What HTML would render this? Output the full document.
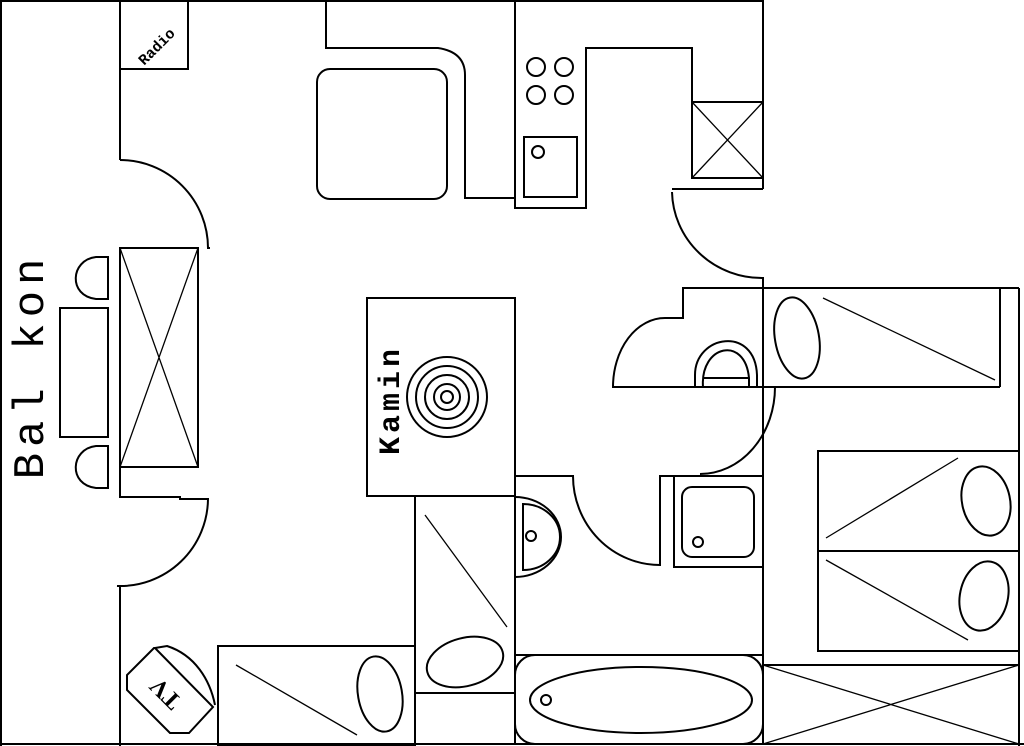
<!DOCTYPE html>
<html><head><meta charset="utf-8"><style>html,body{margin:0;padding:0;background:#fff}svg{display:block}</style></head><body>
<svg width="1024" height="746" viewBox="0 0 1024 746" xmlns="http://www.w3.org/2000/svg">
<g fill="none" stroke="#000" stroke-width="2">
<line x1="1" y1="0" x2="1" y2="746"/>
<line x1="0" y1="1" x2="764" y2="1"/>
<line x1="0" y1="744" x2="1024" y2="744"/>
<rect x="120" y="1" width="68" height="68"/>
<line x1="120" y1="69" x2="120" y2="160"/>
<path d="M120 160 A88 88 0 0 1 208 248 L210 248"/>
<rect x="120" y="248" width="78" height="219"/>
<path d="M120 248 L198 467 M198 248 L120 467" stroke-width="1.3"/>
<path d="M120 467 L120 497 L180 497 L180 499 L208 499 A88 88 0 0 1 117 586 L120 586 L120 746"/>
<rect x="60" y="308" width="48" height="129"/>
<path d="M108 257 L96 257 C70 260 68 296 96 299 L108 299 Z"/>
<path d="M108 446 L96 446 C70 449 68 485 96 488 L108 488 Z"/>
<path d="M326 1 L326 48 L438 48 Q465 52 465 75 L465 198 L515 198"/>
<rect x="317" y="69" width="130" height="130" rx="13"/>
<path d="M515 1 L515 208 L586 208 L586 48 L692 48 L692 102"/>
<rect x="692" y="102" width="71" height="76"/>
<path d="M692 102 L763 178 M763 102 L692 178" stroke-width="1.3"/>
<line x1="763" y1="1" x2="763" y2="189"/>
<line x1="672" y1="189" x2="763" y2="189"/>
<circle cx="536" cy="67" r="9"/><circle cx="564" cy="67" r="9"/>
<circle cx="536" cy="95" r="9"/><circle cx="564" cy="95" r="9"/>
<rect x="524" y="137" width="53" height="60"/>
<circle cx="538" cy="152" r="6"/>
<path d="M672 192 A90 88 0 0 0 763 278 L763 744"/>
<rect x="367" y="298" width="148" height="198"/>
<circle cx="447" cy="397" r="40"/><circle cx="447" cy="397" r="31"/><circle cx="447" cy="397" r="22"/><circle cx="447" cy="397" r="13"/><circle cx="447" cy="397" r="6"/>
<path d="M1019 288 L683 288 L683 318 L665 318 A52 69 0 0 0 613 387 L1000 387"/>
<path d="M695 387 L695 375 C695 335 755 325 757 375 L757 387"/>
<path d="M703 387 C700 345 745 335 749 378 L749 387 M703 378 L749 378"/>
<line x1="1000" y1="288" x2="1000" y2="387"/>
<line x1="1019" y1="288" x2="1019" y2="746"/>
<ellipse cx="797" cy="338" rx="22" ry="41" transform="rotate(-10 797 338)"/>
<line x1="823" y1="298" x2="995" y2="380" stroke-width="1.3"/>
<path d="M775 387 A75 87 0 0 1 700 474"/>
<path d="M515 496 L515 744"/>
<path d="M515 476 L573 476 A87 89 0 0 0 660 565 L660 476 L763 476"/>
<rect x="674" y="476" width="89" height="91"/>
<rect x="682" y="487" width="72" height="70" rx="10"/>
<circle cx="698" cy="542" r="5"/>
<path d="M515 497 A46 40 0 0 1 515 577"/>
<path d="M523 504 A37 33 0 0 1 523 570 Z"/>
<circle cx="531" cy="536" r="5"/>
<line x1="515" y1="655" x2="763" y2="655"/>
<rect x="515" y="655" width="248" height="89" rx="20"/>
<ellipse cx="641" cy="700" rx="111" ry="33"/>
<circle cx="546" cy="700" r="5"/>
<rect x="818" y="451" width="201" height="200"/>
<line x1="818" y1="551" x2="1019" y2="551"/>
<line x1="826" y1="538" x2="958" y2="458" stroke-width="1.3"/>
<ellipse cx="986" cy="501" rx="24" ry="35" transform="rotate(-12 986 501)"/>
<line x1="826" y1="560" x2="968" y2="640" stroke-width="1.3"/>
<ellipse cx="984" cy="596" rx="24" ry="35" transform="rotate(12 984 596)"/>
<rect x="763" y="665" width="256" height="79"/>
<path d="M763 665 L1019 744 M1019 665 L763 744" stroke-width="1.3"/>
<line x1="415" y1="496" x2="415" y2="746"/>
<line x1="415" y1="693" x2="515" y2="693"/>
<line x1="425" y1="515" x2="507" y2="627" stroke-width="1.3"/>
<ellipse cx="465" cy="662" rx="39" ry="24" transform="rotate(-15 465 662)"/>
<rect x="218" y="646" width="197" height="100"/>
<line x1="236" y1="665" x2="357" y2="735" stroke-width="1.3"/>
<ellipse cx="380" cy="694" rx="22" ry="38" transform="rotate(-10 380 694)"/>
<path d="M154 648 L127 675 L127 690 L170 733 L189 733 L213 707 L155 648 Z"/>
<path d="M155 648 L167 646 C195 655 210 680 215 705"/>
</g>
<text x="0" y="0" transform="translate(160 50) rotate(-45)" font-family="Liberation Mono, monospace" font-size="15" font-weight="bold" text-anchor="middle">Radio</text>
<text x="0" y="0" transform="translate(43 366) rotate(-90)" font-family="Liberation Mono, monospace" font-size="44" text-anchor="middle" letter-spacing="6">Bal kon</text>
<text x="0" y="0" transform="translate(399 400) rotate(-90)" font-family="Liberation Mono, monospace" font-size="30" font-weight="bold" text-anchor="middle" letter-spacing="4">Kamin</text>
<text x="0" y="0" transform="translate(167 692) rotate(225)" font-family="Liberation Serif, serif" font-size="24" font-weight="bold" text-anchor="middle" dominant-baseline="middle">TV</text>
</svg>
</body></html>
